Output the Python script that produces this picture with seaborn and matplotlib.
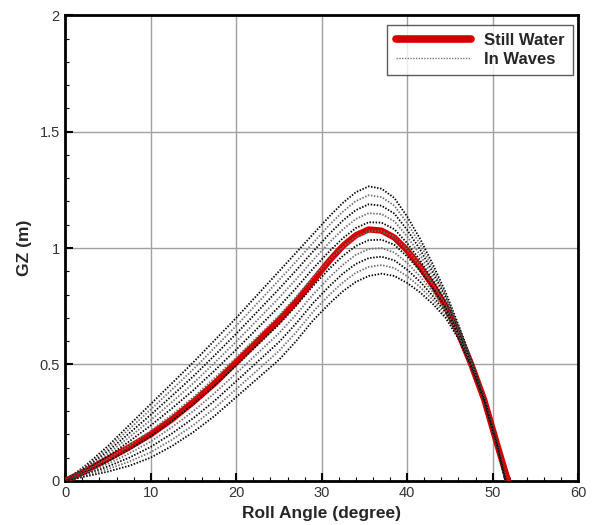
import matplotlib
matplotlib.use("Agg")
import matplotlib.pyplot as plt
import seaborn as sns
import pandas as pd
from matplotlib.lines import Line2D
from matplotlib.ticker import MultipleLocator, FixedLocator

# ---------------- data ----------------
angles = [0, 2.5, 5, 7.5, 10, 12.5, 15, 17.5, 20, 22.5, 25, 27, 29, 31, 32.5, 34,
          35.5, 37, 38.5, 40, 41.5, 43, 44.5, 46, 47.5, 49, 50.5, 51.5]

still_angles = [0, 2.5, 5, 7.5, 10, 12.5, 15, 17.5, 20, 22.5, 25, 27, 29, 31, 32.5, 34,
                35.5, 37, 38.5, 40, 41.5, 43, 44.5, 46, 47.5, 49, 50.5, 51.8]
still_gz = [0, 0.045, 0.095, 0.145, 0.20, 0.265, 0.34, 0.42, 0.51, 0.60, 0.69, 0.77,
            0.86, 0.95, 1.01, 1.055, 1.08, 1.075, 1.045, 0.99, 0.92, 0.84, 0.75, 0.635,
            0.50, 0.35, 0.16, 0]

wave_01 = [0, .07, .15, .24, .33, .42, .51, .605, .70, .80, .90, .98, 1.06, 1.14, 1.195,
           1.24, 1.265, 1.255, 1.215, 1.135, 1.04, .93, .81, .67, .52, .355, .16, 0]
wave_02 = [0, .065, .139, .223, .307, .393, .48, .573, .666, .764, .862, .942, 1.023, 1.103,
           1.157, 1.202, 1.227, 1.219, 1.182, 1.107, 1.017, .913, .799, .664, .517, .354, .160, 0]
wave_03 = [0, .06, .128, .205, .284, .366, .45, .54, .632, .728, .824, .904, .986, 1.065,
           1.119, 1.163, 1.188, 1.182, 1.148, 1.078, .994, .896, .788, .658, .514, .353, .159, 0]
wave_04 = [0, .055, .117, .188, .261, .339, .42, .508, .598, .692, .786, .866, .949, 1.028,
           1.081, 1.125, 1.150, 1.146, 1.115, 1.050, .971, .879, .777, .652, .511, .352, .159, 0]
wave_05 = [0, .05, .106, .17, .238, .312, .39, .475, .564, .656, .748, .828, .912, .99,
           1.043, 1.086, 1.111, 1.109, 1.081, 1.021, .948, .862, .766, .646, .508, .351, .158, 0]
wave_06 = [0, .045, .095, .153, .215, .285, .36, .443, .53, .62, .71, .79, .875, .953,
           1.005, 1.048, 1.073, 1.073, 1.048, .993, .925, .845, .755, .64, .505, .35, .158, 0]
wave_07 = [0, .04, .084, .135, .192, .258, .33, .41, .496, .584, .672, .752, .838, .915,
           .967, 1.009, 1.034, 1.036, 1.014, .964, .902, .828, .744, .634, .502, .349, .157, 0]
wave_08 = [0, .035, .073, .118, .169, .231, .30, .378, .462, .548, .634, .714, .801, .878,
           .929, .971, .996, 1.0, .981, .936, .879, .811, .733, .628, .499, .348, .157, 0]
wave_09 = [0, .03, .062, .10, .146, .204, .27, .345, .428, .512, .596, .676, .764, .84,
           .891, .932, .957, .963, .947, .907, .856, .794, .722, .622, .496, .347, .156, 0]
wave_10 = [0, .025, .051, .083, .123, .177, .24, .313, .394, .476, .558, .638, .727, .803,
           .853, .894, .919, .927, .914, .879, .833, .777, .711, .616, .493, .346, .156, 0]
wave_11 = [0, .02, .04, .065, .10, .15, .21, .28, .36, .44, .52, .60, .69, .765,
           .815, .855, .88, .89, .88, .85, .81, .76, .70, .61, .49, .345, .155, 0]

waves = [wave_01, wave_02, wave_03, wave_04, wave_05, wave_06,
         wave_07, wave_08, wave_09, wave_10, wave_11]

x_ticks = [0, 10, 20, 30, 40, 50, 60]
y_ticks = [0, 0.5, 1.0, 1.5, 2.0]
y_tick_labels = ["0", "0.5", "1", "1.5", "2"]

# ---------------- style ----------------
sns.set_style("white")
plt.rcParams["font.family"] = ["Liberation Sans", "DejaVu Sans"]

fig, ax = plt.subplots(figsize=(5.93, 5.25), dpi=100)
fig.subplots_adjust(left=0.110, right=0.975, bottom=0.084, top=0.971)

still_df = pd.DataFrame({"angle": still_angles, "gz": still_gz})
sns.lineplot(data=still_df, x="angle", y="gz", color="#d40000", linewidth=4.5,
             sort=False, ax=ax, zorder=3, legend=False)

wave_colors = ["#000000", "#6e6e6e"]
for i, w in enumerate(waves):
    df = pd.DataFrame({"angle": angles, "gz": w})
    sns.lineplot(data=df, x="angle", y="gz", color=wave_colors[i % 2],
                 linewidth=1.3, linestyle=(0, (0.8, 0.9)), sort=False, ax=ax,
                 zorder=4, legend=False)

ax.set_xlim(0, 60)
ax.set_ylim(0, 2)
ax.xaxis.set_major_locator(FixedLocator(x_ticks))
ax.yaxis.set_major_locator(FixedLocator(y_ticks))
ax.set_yticklabels(y_tick_labels)
ax.xaxis.set_minor_locator(MultipleLocator(2))
ax.yaxis.set_minor_locator(MultipleLocator(0.1))

ax.grid(True, which="major", color="#a0a0a0", linewidth=1.0, zorder=0)
ax.grid(False, which="minor")
ax.set_axisbelow(True)

ax.tick_params(which="major", direction="in", length=6, width=1.5,
               bottom=True, left=True, top=False, right=False,
               labelsize=10.5, labelcolor="#333333", pad=4, color="black")
ax.tick_params(which="minor", direction="in", length=3, width=0.8,
               bottom=True, left=True, top=False, right=False, color="black")

for s in ax.spines.values():
    s.set_linewidth(2.0)
    s.set_color("black")

ax.set_xlabel("Roll Angle (degree)", fontsize=12.5, fontweight="bold", labelpad=4)
ax.set_ylabel("GZ (m)", fontsize=12.5, fontweight="bold", labelpad=5)

handles = [Line2D([], [], color="#d40000", linewidth=5.5),
           Line2D([], [], color="#777777", linewidth=1.0, linestyle=(0, (1, 1)))]
leg = ax.legend(handles, ["Still Water", "In Waves"], loc="upper right",
                bbox_to_anchor=(0.99, 0.98), borderaxespad=0, frameon=True,
                fancybox=False, edgecolor="#333333", handlelength=4.5,
                prop={"weight": "bold", "size": 12}, labelspacing=0.25,
                borderpad=0.5, handletextpad=0.8)
leg.get_frame().set_linewidth(1.0)

fig.savefig("out.png", dpi=100)
